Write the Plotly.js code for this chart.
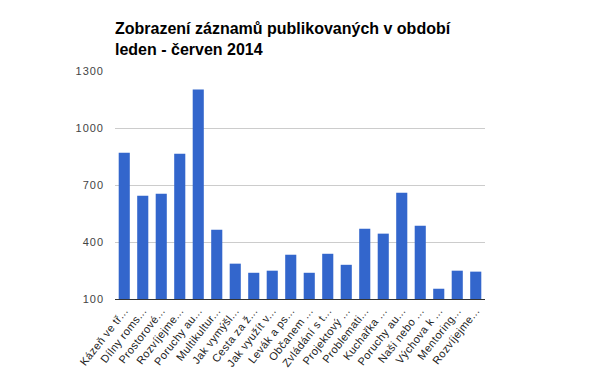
<!DOCTYPE html>
<html>
<head>
<meta charset="utf-8">
<script src="https://cdn.plot.ly/plotly-3.0.1.min.js"></script>
<style>
html,body{margin:0;padding:0;background:#fff;}
#chart{width:600px;height:371px;}
#chart .ytick text{letter-spacing:1px;}
#chart .xtick text{letter-spacing:0.4px;}
</style>
</head>
<body>
<div id="chart"></div>
<script>
const categories = [
  "Kázeň ve tř...", "Dílny roms...", "Prostorové...", "Rozvíjejme...", "Poruchy au...",
  "Multikultur...", "Jak vymýšl...", "Cesta za ž...", "Jak využít v...", "Levák a ps...",
  "Občanem ...", "Zvládání s t...", "Projektový ...", "Problemati...", "Kuchařka ...",
  "Poruchy au...", "Naši nebo ...", "Výchova k ...", "Mentoring...", "Rozvíjejme..."
];
const views = [870, 644, 654, 865, 1202, 465, 286, 238, 249, 333,
               238, 338, 280, 470, 444, 659, 486, 154, 249, 244];
const yTicks = [100, 400, 700, 1000, 1300];
const titleText = "Zobrazení záznamů publikovaných v období<br>leden - červen 2014";

const ids = categories.map((c, i) => i);

Plotly.newPlot('chart', [{
  type: 'bar',
  x: ids,
  y: views,
  base: 0,
  marker: {color: '#3366cc'},
  hoverinfo: 'none'
}], {
  width: 600, height: 371,
  margin: {l: 115, r: 115, t: 71, b: 72},
  paper_bgcolor: '#fff', plot_bgcolor: '#fff',
  bargap: 0.4,
  showlegend: false,
  font: {family: 'Liberation Sans, Arial, sans-serif'},
  title: {
    text: '<b>' + titleText + '</b>',
    font: {size: 16, color: '#000', family: 'Liberation Sans, Arial, sans-serif'},
    xref: 'paper', x: 0, xanchor: 'left',
    yref: 'container', y: 0.908, yanchor: 'top'
  },
  xaxis: {
    tickmode: 'array', tickvals: ids, ticktext: categories,
    tickangle: -52,
    tickfont: {size: 11, color: '#222'},
    showgrid: false, zeroline: false,
    showline: true, linecolor: '#333', linewidth: 1,
    ticks: '', range: [-0.5, categories.length - 0.5]
  },
  yaxis: {
    range: [100, 1300],
    tickmode: 'array', tickvals: yTicks, ticktext: yTicks.map(String),
    tickfont: {size: 11, color: '#444'},
    gridcolor: '#cccccc', gridwidth: 1,
    zeroline: false, showline: false, ticks: '',
    ticklabelstandoff: 10
  }
}, {staticPlot: true});
</script>
</body>
</html>
